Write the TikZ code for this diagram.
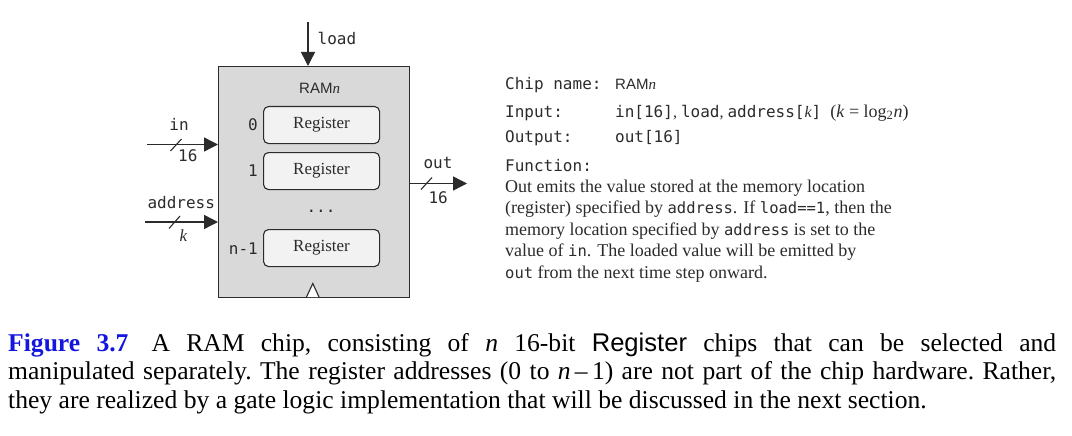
\documentclass[tikz,border=0pt]{standalone}
\usepackage{fontspec}
\setmainfont{Liberation Serif}
\setsansfont{Liberation Sans}
\setmonofont{DejaVu Sans Mono}
\usetikzlibrary{arrows.meta}
\definecolor{chipgray}{HTML}{D9D9D9}
\definecolor{reggray}{HTML}{F2F2F2}
\definecolor{ink}{HTML}{2B2B2B}
\definecolor{figblue}{HTML}{1515E0}
\tikzset{
  wire/.style={line width=1.4pt, draw=ink},
  arr/.style={wire, -{Triangle[length=14pt,width=14pt]}},
  slash/.style={line width=1.1pt, draw=ink},
  chip/.style={draw=ink, line width=1.4pt, fill=chipgray, minimum width=191pt, minimum height=231pt, anchor=north west, inner sep=0pt},
  reg/.style={draw=ink, line width=1.1pt, fill=reggray, rounded corners=5pt, minimum width=116pt, minimum height=37pt, anchor=north west, inner sep=0pt, font=\fontsize{17}{20}\selectfont, text=ink},
  monol/.style={font=\fontsize{16}{19}\ttfamily, text=ink, inner sep=0pt},
  spec/.style={font=\fontsize{16}{19}\ttfamily, text=ink, inner sep=0pt, anchor=base west},
  body/.style={font=\fontsize{18}{21}\selectfont, text=ink, inner sep=0pt, anchor=base west},
}
\begin{document}
\begin{tikzpicture}[x=1pt,y=-1pt]
\useasboundingbox (0,0) rectangle (1072,436);
% chip
\node[chip] (ram) at (218,66) {};
\node[anchor=base west, inner sep=0pt, text=ink, font=\fontsize{15}{17}\selectfont] (title) at (299,93.5) {\sffamily RAM\rmfamily\itshape n};
\node[reg] (r0) at (263,106) {Register};
\node[reg] (r1) at (263,152) {Register};
\node[reg] (rn) at (263,229) {Register};
\node[monol, anchor=base east] (l0) at (258,130.7) {0};
\node[monol, anchor=base east] (l1) at (258,176.7) {1};
\node[monol, anchor=base east] (ln) at (258,254) {n-1};
\node[monol, anchor=center] (dots) at (321,211) {...};
% clock triangle
\draw[line width=1.1pt, draw=ink, fill=white] (306.5,297) -- (312.8,283.5) -- (319,297);
% load
\coordinate (loadS) at (308,22);
\draw[arr] (loadS) -- (loadS |- ram.north);
\node[monol, anchor=base west] (load) at (317.5,44.3) {load};
% in
\coordinate (inS) at (147,144.5);
\draw[arr] (inS) -- (inS -| ram.west);
\draw[slash] (170.5,151) -- (181.5,139);
\node[monol, anchor=base] (inl) at (179,130) {in};
\node[monol, anchor=base west] (in16) at (178,161.7) {16};
% address
\coordinate (adS) at (145,222);
\draw[arr] (adS) -- (adS -| ram.west);
\draw[slash] (169,228.5) -- (180,216);
\node[monol, anchor=base west] (adl) at (147.3,208.3) {address};
\node[anchor=base, inner sep=0pt, text=ink, font=\fontsize{17}{20}\selectfont\itshape] (kl) at (183.3,241.7) {k};
% out
\coordinate (outE) at (467,183.5);
\draw[arr] (outE -| ram.east) -- (outE);
\draw[slash] (421,189.5) -- (432,177.5);
\node[monol, anchor=base west] (outl) at (423.3,168.3) {out};
\node[monol, anchor=base west] (out16) at (428.3,203.3) {16};
% spec text
\node[spec] (cn) at (505,89.3) {Chip name:};
\node[spec] (cnv) at (615,89.3) {\sffamily\fontsize{15}{17}\selectfont RAM\rmfamily\itshape n};
\node[spec] (inp) at (505,117.3) {Input:};
\node[spec] (inpv) at (615,117.3) {in[16]{\rmfamily, }load{\rmfamily, }address[{\rmfamily\itshape k}]{\rmfamily\fontsize{18}{21}\selectfont\ \ (\textit{k}\ =\ log\textsubscript{2}\textit{n})}};
\node[spec] (outp) at (505,142.7) {Output:};
\node[spec] (outpv) at (615,142.7) {out[16]};
\node[spec] (fn) at (505,171.7) {Function:};
\node[body] (b1) at (505,192.7) {Out emits the value stored at the memory location};
\node[body] (b2) at (505,213.6) {(register) specified by {\fontsize{15.5}{18}\ttfamily address}. If {\fontsize{15.5}{18}\ttfamily load==1}, then the};
\node[body] (b3) at (505,235) {memory location specified by {\fontsize{15.5}{18}\ttfamily address} is set to the};
\node[body] (b4) at (505,256.7) {value of {\fontsize{15.5}{18}\ttfamily in}. The loaded value will be emitted by};
\node[body] (b5) at (505,278.3) {{\fontsize{15.5}{18}\ttfamily out} from the next time step onward.};
% caption
\node[anchor=base west, inner sep=0pt, text=black] (cap) at (8,351) {\parbox[t]{1048pt}{\fontsize{25.6}{28.5}\selectfont\frenchspacing\noindent
{\bfseries\color{figblue}Figure 3.7}\hspace{0.9em}A RAM chip, consisting of \textit{n} 16-bit {\sffamily Register} chips that can be selected and\linebreak
manipulated separately. The register addresses (0 to \textit{n}\,--\,1) are not part of the chip hardware. Rather,\linebreak
they are realized by a gate logic implementation that will be discussed in the next section.}};
\end{tikzpicture}
\end{document}
